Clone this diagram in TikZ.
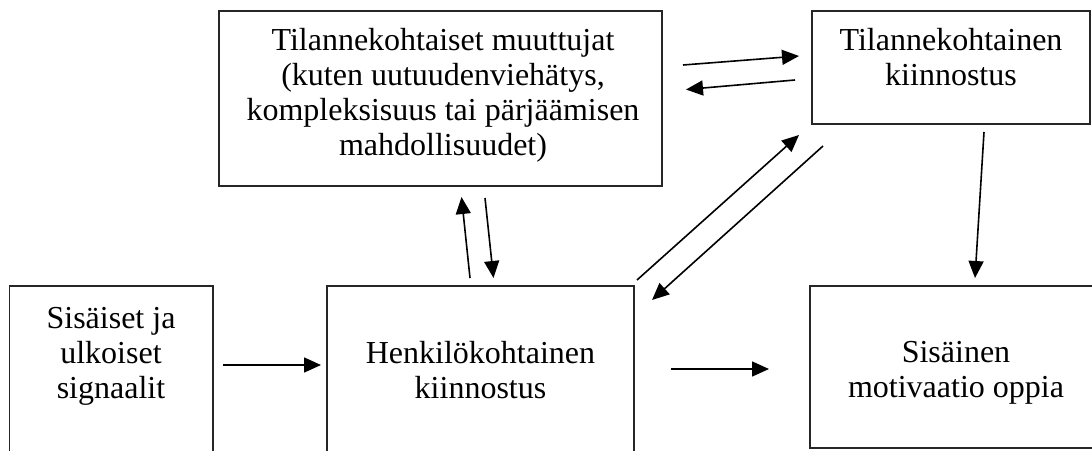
\documentclass[tikz,border=0pt]{standalone}
\usepackage{fontspec}
\setmainfont{Liberation Serif}
\usetikzlibrary{arrows.meta}

\begin{document}
\begin{tikzpicture}[x=1pt,y=-1pt,
  box/.style={draw=black!85, line width=1.2pt, inner sep=0pt},
  lbl/.style={anchor=base, inner sep=0pt, font=\fontsize{32}{35}\selectfont},
  arr/.style={line width=1.6pt, -{Triangle[length=17pt,width=15pt]}}]
\useasboundingbox (0,0) rectangle (1092,450);
\begin{scope}
\clip (0,0) rectangle (1092,450);

% boxes
\node[box, minimum width=443pt, minimum height=175pt] (tm) at (440.5,98.5) {};
\node[box, minimum width=278pt, minimum height=113pt] (tr) at (951,67.5) {};
\node[box, minimum width=203.5pt, minimum height=184pt] (bl) at (111.25,378) {};
\node[box, minimum width=307pt, minimum height=184pt] (bm) at (480.5,378) {};
\node[box, minimum width=292pt, minimum height=162pt] (br) at (956,367) {};

% texts
\node[lbl] (tm1) at (443,50) {Tilannekohtaiset muuttujat};
\node[lbl] (tm2) at (443,85) {(kuten uutuudenviehätys,};
\node[lbl] (tm3) at (443,120) {kompleksisuus tai pärjäämisen};
\node[lbl] (tm4) at (443,155) {mahdollisuudet)};

\node[lbl] (tr1) at (951,50) {Tilannekohtainen};
\node[lbl] (tr2) at (951,85) {kiinnostus};

\node[lbl] (bl1) at (111,328) {Sisäiset ja};
\node[lbl] (bl2) at (111,363) {ulkoiset};
\node[lbl] (bl3) at (111,398) {signaalit};

\node[lbl] (bm1) at (480.5,363) {Henkilökohtainen};
\node[lbl] (bm2) at (480.5,398) {kiinnostus};

\node[lbl] (br1) at (956,362) {Sisäinen};
\node[lbl] (br2) at (956,397) {motivaatio oppia};

% arrow end points
\coordinate (a1s) at (223,365);   \coordinate (a1e) at (321,365);
\coordinate (a2s) at (671,369);   \coordinate (a2e) at (769,369);
\coordinate (a3s) at (470,278);   \coordinate (a3e) at (461.5,197);
\coordinate (a4s) at (485,198);   \coordinate (a4e) at (493.5,278);
\coordinate (a5s) at (637,280);   \coordinate (a5e) at (799,135);
\coordinate (a6s) at (823,146);   \coordinate (a6e) at (652,300);
\coordinate (a7s) at (984,132);   \coordinate (a7e) at (975,278);
\coordinate (a8s) at (683,65);    \coordinate (a8e) at (799,56);
\coordinate (a9s) at (795,80);    \coordinate (a9e) at (686,89.5);

% connectors
\draw[arr] (a1s) -- (a1e);
\draw[arr] (a2s) -- (a2e);
\draw[arr] (a3s) -- (a3e);
\draw[arr] (a4s) -- (a4e);
\draw[arr] (a5s) -- (a5e);
\draw[arr] (a6s) -- (a6e);
\draw[arr] (a7s) -- (a7e);
\draw[arr] (a8s) -- (a8e);
\draw[arr] (a9s) -- (a9e);
\end{scope}
\end{tikzpicture}
\end{document}
